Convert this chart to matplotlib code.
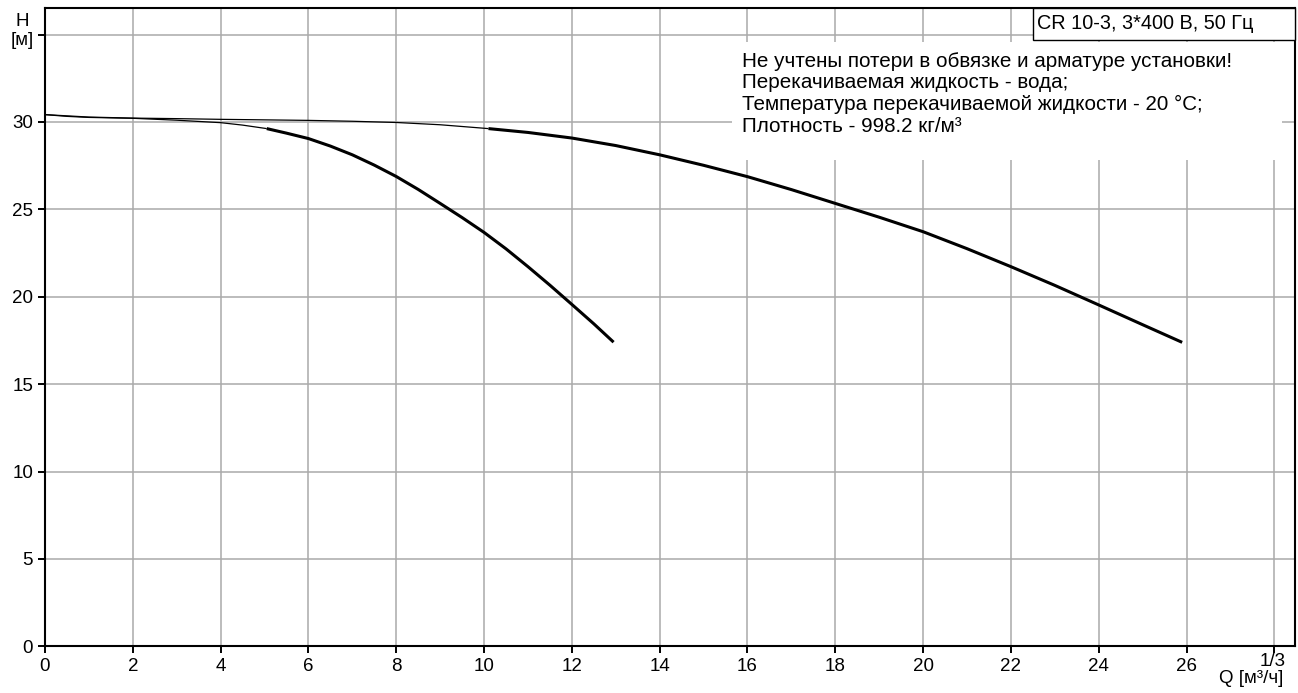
import matplotlib
matplotlib.use("Agg")
import matplotlib.pyplot as plt
import matplotlib.patches as patches
import numpy as np

plt.rcParams['font.family'] = ['Liberation Sans', 'DejaVu Sans']
plt.rcParams['font.size'] = 13

# Curve data (Q in m3/h, H in m)
q_one = [0, 0.5, 1, 2, 3, 4, 4.5, 5.05, 5.5, 6, 6.5, 7, 7.5, 8, 8.5, 9, 9.5,
         10, 10.5, 11, 11.5, 12, 12.5, 12.95]
h_one = [30.42, 30.32, 30.26, 30.21, 30.1, 29.96, 29.82, 29.62, 29.36, 29.05,
         28.62, 28.12, 27.53, 26.88, 26.14, 25.34, 24.53, 23.68, 22.74, 21.72,
         20.66, 19.56, 18.45, 17.4]
thick_from_one = 5.05

q_two = [0, 1, 2, 3, 4, 5, 6, 7, 8, 9, 10.1, 11, 12, 13, 14, 15, 16, 17, 18,
         19, 20, 21, 22, 23, 24, 25, 25.9]
h_two = [30.42, 30.28, 30.22, 30.19, 30.15, 30.12, 30.09, 30.04, 29.97, 29.84,
         29.62, 29.4, 29.08, 28.65, 28.12, 27.52, 26.87, 26.13, 25.34, 24.55,
         23.72, 22.75, 21.72, 20.65, 19.53, 18.4, 17.39]
thick_from_two = 10.1

x_ticks = list(range(0, 30, 2))
x_tick_labels = [str(v) for v in range(0, 28, 2)] + ['']
y_ticks = list(range(0, 40, 5))
y_tick_labels = [str(v) for v in range(0, 35, 5)] + ['']

title_text = 'CR 10-3, 3*400 В, 50 Гц'
note_lines = [
    'Не учтены потери в обвязке и арматуре установки!',
    'Перекачиваемая жидкость - вода;',
    'Температура перекачиваемой жидкости - 20 °C;',
    'Плотность - 998.2 кг/м³',
]

fig = plt.figure(figsize=(12.98, 6.93), dpi=100)
ax = fig.add_axes([45 / 1298, 1 - 646.3 / 693, 1250 / 1298, 638.3 / 693])

ax.set_xlim(0, 28.47)
ax.set_ylim(0, 36.52)

ax.set_xticks(x_ticks)
ax.set_xticklabels(x_tick_labels)
ax.set_yticks(y_ticks)
ax.set_yticklabels(y_tick_labels)

ax.grid(True, color='#aaaaaa', linewidth=1.1, zorder=0)
ax.set_axisbelow(True)
ax.tick_params(direction='out', length=5, width=1.4, color='black', pad=3.5,
               labelsize=13.5)
for sp in ax.spines.values():
    sp.set_linewidth(1.5)
    sp.set_color('black')


def draw_curve(q, h, split):
    q = np.array(q)
    h = np.array(h)
    thin = q <= split
    thick = q >= split
    ax.plot(q[thin], h[thin], color='black', linewidth=0.9, zorder=3,
            solid_capstyle='butt')
    ax.plot(q[thick], h[thick], color='black', linewidth=2.2, zorder=3,
            solid_capstyle='butt', solid_joinstyle='round')


draw_curve(q_one, h_one, thick_from_one)
draw_curve(q_two, h_two, thick_from_two)

# white area behind the notes
ax.add_patch(patches.Rectangle((15.64, 27.8), 28.18 - 15.64, 34.55 - 27.8,
                               facecolor='white', edgecolor='none', zorder=2))
for i, line in enumerate(note_lines):
    y_px = 66.7 + i * 21.7
    ax.text(15.87, (646.3 - y_px) / 17.48, line, ha='left', va='baseline',
            fontsize=14.9, zorder=4)

# model label box in the top right
ax.add_patch(patches.Rectangle((0.7904, 0.95), 1 - 0.7904, 0.05,
                               transform=ax.transAxes, facecolor='white',
                               edgecolor='black', linewidth=1.0, zorder=4,
                               clip_on=False))
ax.text(0.7936, 0.9666, title_text, transform=ax.transAxes, ha='left',
        va='baseline', fontsize=14.3, zorder=5)


# axis captions, placed in figure pixels
def fig_px(x, y):
    return x / 1298, 1 - y / 693


fig.text(*fig_px(22, 26), 'H', ha='center', va='baseline', fontsize=13.5)
fig.text(*fig_px(22, 45), '[м]', ha='center', va='baseline', fontsize=13.5)
fig.text(*fig_px(1272.5, 666), '1/3', ha='center', va='baseline',
         fontsize=13.5)
fig.text(*fig_px(1283, 683), 'Q [м³/ч]', ha='right', va='baseline',
         fontsize=13.5)

fig.savefig('out.png', dpi=100, facecolor='white')
